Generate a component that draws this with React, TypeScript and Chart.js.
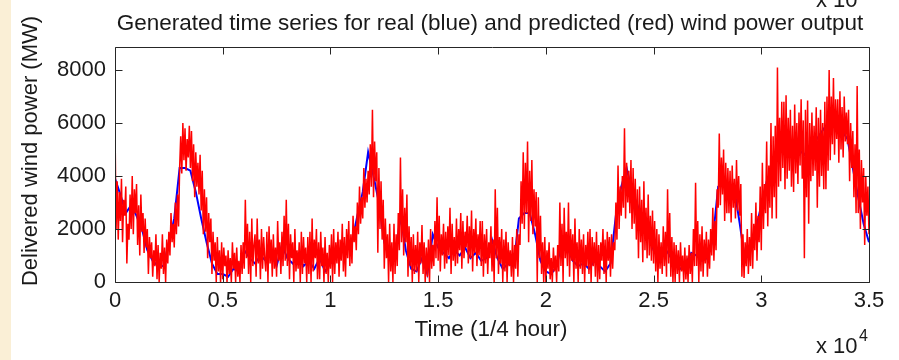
import React, { useEffect, useRef } from "react";
import { Chart, registerables } from "chart.js";

Chart.register(...registerables);

const TITLE = "Generated time series for real (blue) and predicted (red) wind power output";
const X_LABEL = "Time (1/4 hour)";
const Y_LABEL = "Delivered wind power (MW)";
const X_MAX = 35000;
const Y_MAX = 8870;
const X_TICKS = [0, 5000, 10000, 15000, 20000, 25000, 30000, 35000];
const Y_TICKS = [0, 2000, 4000, 6000, 8000];
const X_EXPONENT = "4";

// predicted (red) — one sample every 50 quarter-hours
const PREDICTED_STEP = 50;
const predictedMW = [
  5900, 2000, 3800, 1600, 3400, 2300, 3900, 1500, 3100, 2500,
  3600, 700, 2200, 1600, 3300, 2000, 4000, 1800, 3500, 2600,
  3700, 1400, 2900, 1000, 3300, 1900, 2600, 1100, 2400, 1300,
  2000, 300, 1700, 900, 1500, 200, 1200, 600, 1800, 100,
  1400, 0, 1100, 500, 1800, 300, 1300, 0, 1600, 700,
  1900, 1000, 2600, 1500, 2200, 1300, 3000, 1800, 3300, 2100,
  4300, 5500, 4100, 6000, 4600, 5800, 4200, 5400, 4700, 5900,
  4300, 5700, 3800, 5200, 3200, 4900, 3600, 4500, 3300, 4800,
  2700, 4200, 1800, 3500, 1900, 3200, 900, 2600, 1500, 2400,
  300, 1900, 800, 1500, 0, 1700, 400, 1200, 0, 1500,
  100, 1300, 600, 1000, 0, 1200, 300, 900, 0, 1500,
  500, 1100, 0, 1300, 200, 800, 0, 1400, 300, 1500,
  500, 3100, 900, 2200, 300, 1900, 0, 2400, 600, 1400,
  1800, 200, 2400, 700, 1600, 100, 2000, 500, 1700, 900,
  400, 1900, 0, 2100, 700, 1600, 200, 1800, 500, 1300,
  200, 2300, 800, 1500, 300, 1900, 600, 2500, 800, 3100,
  600, 2200, 100, 1800, 900, 1500, 0, 2000, 400, 1200,
  500, 1500, 0, 1900, 300, 1700, 700, 1300, 0, 1700,
  300, 1900, 0, 2400, 400, 1600, 900, 2000, 100, 1500,
  100, 1900, 600, 1300, 0, 1700, 300, 1100, 0, 1400,
  500, 1800, 0, 2000, 300, 1500, 700, 1900, 200, 1600,
  800, 2200, 400, 1700, 200, 2000, 900, 2300, 600, 1800,
  700, 2500, 1500, 2100, 1200, 3000, 1800, 3600, 2200, 3200,
  2400, 4300, 2800, 3900, 3000, 4200, 3300, 5200, 3600, 6500,
  3200, 5300, 3800, 4900, 1100, 4300, 2000, 3800, 1600, 3100,
  500, 2400, 900, 1800, 0, 2200, 400, 1500, 0, 2200,
  300, 1800, 600, 2600, 1200, 4700, 1500, 3500, 1000, 2800,
  1500, 3300, 200, 2100, 600, 1700, 0, 1800, 300, 1400,
  400, 1900, 0, 1500, 700, 2150, 300, 1500, 0, 1300,
  200, 1600, 0, 2000, 500, 1400, 600, 2300, 900, 3200,
  800, 2500, 400, 1800, 1000, 2200, 500, 1900, 700, 2100,
  1000, 2800, 300, 2200, 800, 1700, 600, 2400, 700, 2000,
  1200, 2600, 500, 2300, 900, 1900, 1300, 2500, 700, 2100,
  900, 2700, 400, 2000, 1100, 2400, 600, 1800, 1000, 2300,
  600, 2300, 200, 1800, 700, 2000, 300, 1500, 900, 2100,
  400, 1600, 0, 3500, 900, 2800, 300, 1700, 700, 2000,
  0, 1600, 400, 1900, 0, 1500, 600, 1200, 200, 1700,
  0, 1400, 500, 2000, 200, 1800, 1400, 3800, 2200, 4900,
  2000, 4500, 2600, 5300, 1500, 4200, 2300, 4600, 1800, 3500,
  2100, 3400, 0, 3200, 900, 2500, 300, 1500, 0, 1700,
  0, 1200, 500, 1500, 100, 900, 0, 1300, 400, 1000,
  0, 1400, 400, 3000, 600, 2200, 0, 2800, 900, 1900,
  600, 3000, 200, 2000, 800, 1800, 0, 2400, 500, 1500,
  0, 2000, 500, 1600, 300, 1800, 0, 1400, 600, 1900,
  300, 2000, 0, 1700, 600, 1500, 200, 1900, 0, 1400,
  100, 1500, 800, 2000, 300, 1600, 0, 1900, 800, 1700,
  200, 1800, 500, 1500, 1200, 3000, 1600, 4400, 2000, 3600,
  2500, 4000, 2800, 5800, 2400, 4500, 3000, 4200, 2600, 4600,
  2000, 4300, 2200, 3900, 1600, 3500, 900, 3600, 1500, 3100,
  750, 3800, 1200, 2800, 900, 3300, 1000, 2500, 800, 2700,
  700, 2300, 400, 2000, 0, 1800, 500, 1500, 300, 2100,
  600, 1900, 200, 3500, 700, 2600, 200, 1700, 0, 1500,
  0, 1400, 300, 1200, 0, 1500, 400, 1000, 0, 1300,
  100, 1000, 0, 1400, 300, 1100, 0, 2000, 600, 3750,
  600, 2300, 0, 1800, 400, 2100, 200, 1600, 700, 1900,
  200, 1600, 500, 2000, 1000, 2800, 800, 2300, 1200, 3500,
  2800, 5600, 2900, 4700, 3300, 5000, 2300, 4500, 2600, 4300,
  2600, 4200, 2250, 4400, 2800, 3900, 2400, 4600, 2700, 4000,
  2500, 3700, 200, 1800, 150, 1500, 600, 2000, 300, 1700,
  600, 2600, 500, 2200, 1200, 3000, 800, 2500, 1500, 3600,
  1200, 4500, 2000, 3700, 2600, 5300, 2100, 4400, 2800, 6000,
  2400, 5500, 3200, 5900, 2400, 8100, 3600, 6200, 3800, 6800,
  4300, 6800, 3500, 7050, 3900, 6200, 4200, 6500, 3600, 5900,
  3400, 6700, 4100, 6000, 3700, 6400, 4400, 6900, 3900, 6100,
  900, 6500, 3200, 6850, 2200, 6000, 3800, 6400, 4000, 5900,
  4200, 6600, 2800, 6200, 3600, 6500, 4000, 6000, 3500, 6800,
  3500, 7000, 4200, 8000, 4600, 7000, 5200, 7700, 4800, 6900,
  5400, 6900, 4500, 7200, 5000, 6600, 4700, 7000, 5300, 6400,
  5200, 6500, 3800, 6000, 4300, 5700, 3200, 5200, 2600, 7400,
  2600, 5000, 2000, 4600, 3000, 4300, 1400, 4000, 2500, 3600,
  1800,
];

// real (blue) — one sample every 250 quarter-hours
const REAL_STEP = 250;
const realMW = [
  3900, 3300, 2600, 2900,
  2500, 2000, 1200, 800,
  600, 600, 1500, 2400,
  4300, 4300, 4200, 3400,
  2400, 1500, 700, 300,
  300, 200, 500, 400,
  1200, 900, 700, 1000,
  800, 1100, 600, 1400,
  900, 700, 1000, 600,
  800, 500, 900, 400,
  700, 900, 1100, 1300,
  1500, 2500, 3400, 4900,
  4000, 3000, 1500, 900,
  800, 2500, 1200, 500,
  400, 900, 300, 1800,
  1300, 1100, 900, 1200,
  1000, 1300, 900, 1100,
  800, 900, 1600, 900,
  500, 700, 600, 2400,
  2600, 2600, 1800, 800,
  400, 300, 600, 1500,
  1300, 800, 600, 700,
  500, 800, 600, 400,
  700, 2500, 3600, 4300,
  3400, 2900, 2200, 1800,
  1200, 900, 1300, 1000,
  600, 500, 700, 1100,
  1000, 800, 900, 1600,
  3600, 3700, 3400, 3500,
  2200, 800, 1400, 2000,
  2900, 3800, 4200, 4800,
  5100, 4800, 5300, 5000,
  4800, 5100, 5300, 5600,
  5900, 6100, 6000, 5700,
  5400, 4300, 3200, 2200,
  1500,
];

const FONT = '"Liberation Sans", Arial, sans-serif';
const INK = "#1a1a1a";

const framePlugin = {
  id: "matlabFrame",
  afterDatasetsDraw(chart: any) {
    const { ctx, chartArea, scales } = chart;
    const { left, right, top, bottom } = chartArea;
    const L = Math.round(left) + 0.5;
    const R = Math.round(right) + 0.5;
    const T = Math.round(top) + 0.5;
    const B = Math.round(bottom) + 0.5;
    ctx.save();
    ctx.strokeStyle = "#262626";
    ctx.lineWidth = 1;
    ctx.beginPath();
    ctx.rect(L, T, R - L, B - T);
    const tl = 7;
    for (const t of scales.x.ticks) {
      const px = Math.round(scales.x.getPixelForValue(t.value)) + 0.5;
      ctx.moveTo(px, B);
      ctx.lineTo(px, B - tl);
      ctx.moveTo(px, T);
      ctx.lineTo(px, T + tl);
    }
    for (const t of scales.y.ticks) {
      const py = Math.round(scales.y.getPixelForValue(t.value)) + 0.5;
      ctx.moveTo(L, py);
      ctx.lineTo(L + tl, py);
      ctx.moveTo(R, py);
      ctx.lineTo(R - tl, py);
    }
    ctx.stroke();
    ctx.restore();
  },
  afterDraw(chart: any) {
    const { ctx, chartArea } = chart;
    const { left, right } = chartArea;
    const cx = (left + right) / 2;
    ctx.save();
    ctx.fillStyle = INK;
    ctx.textBaseline = "alphabetic";
    ctx.font = `22.5px ${FONT}`;
    ctx.textAlign = "center";
    ctx.fillText(TITLE, cx - 2, 30);
    ctx.fillText(X_LABEL, cx - 1, 336);
    ctx.textAlign = "left";
    ctx.font = `22px ${FONT}`;
    ctx.fillText("x 10", 816, 353);
    ctx.fillText("x 10", 816, 7);
    ctx.font = `16px ${FONT}`;
    ctx.fillText(X_EXPONENT, 859, 341);
    ctx.font = `22px ${FONT}`;
    ctx.translate(37, 151);
    ctx.rotate(-Math.PI / 2);
    ctx.textAlign = "center";
    ctx.fillText(Y_LABEL, 0, 0);
    ctx.restore();
  },
};

export default function App() {
  const ref = useRef<HTMLCanvasElement | null>(null);
  useEffect(() => {
    if (!ref.current) return;
    const predicted = predictedMW.map((v, i) => ({ x: i * PREDICTED_STEP, y: v }));
    const real = realMW.map((v, i) => ({ x: i * REAL_STEP, y: v }));
    const chart = new Chart(ref.current, {
      type: "line",
      data: {
        datasets: [
          {
            label: "real",
            data: real,
            borderColor: "#0000ff",
            borderWidth: 2,
            pointRadius: 0,
            tension: 0,
            order: 2,
          },
          {
            label: "predicted",
            data: predicted,
            borderColor: "#ff0000",
            borderWidth: 1.5,
            pointRadius: 0,
            tension: 0,
            order: 1,
          },
        ],
      },
      options: {
        animation: false,
        responsive: false,
        layout: { padding: { left: 0, right: 30, top: 47, bottom: 0 } },
        plugins: {
          legend: { display: false },
          tooltip: { enabled: false },
          title: { display: false },
        },
        scales: {
          x: {
            type: "linear",
            min: 0,
            max: X_MAX,
            grid: { display: false, drawTicks: false },
            border: { display: false },
            afterBuildTicks: (s: any) => {
              s.ticks = X_TICKS.map((v) => ({ value: v }));
            },
            ticks: {
              padding: 6,
              color: INK,
              font: { family: FONT, size: 22 },
              maxRotation: 0,
              autoSkip: false,
              callback: (v: any) => String(Number(v) / 10000),
            },
            afterFit: (s: any) => {
              s.height = 78;
            },
          },
          y: {
            type: "linear",
            min: 0,
            max: Y_MAX,
            grid: { display: false, drawTicks: false },
            border: { display: false },
            afterBuildTicks: (s: any) => {
              s.ticks = Y_TICKS.map((v) => ({ value: v }));
            },
            ticks: {
              padding: 9,
              color: INK,
              autoSkip: false,
              font: { family: FONT, size: 22 },
              callback: (v: any) => String(v),
            },
            afterFit: (s: any) => {
              s.width = 115;
            },
          },
        },
      },
      plugins: [framePlugin],
    });
    return () => chart.destroy();
  }, []);

  return (
    <div
      style={{
        position: "fixed",
        left: 0,
        top: 0,
        width: 899,
        height: 360,
        background: "#ffffff",
      }}
    >
      <div
        style={{
          position: "absolute",
          left: 0,
          top: 0,
          width: 11,
          height: 360,
          background: "#faefd6",
        }}
      />
      <canvas ref={ref} width={899} height={360} style={{ position: "absolute", left: 0, top: 0 }} />
    </div>
  );
}
